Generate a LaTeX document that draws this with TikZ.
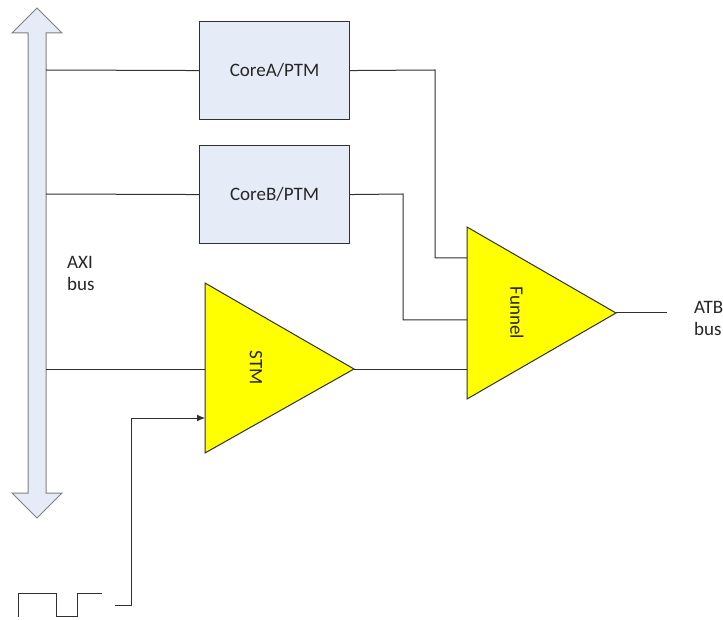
\documentclass[tikz,border=0pt]{standalone}
\usepackage{fontspec}
\setmainfont{Carlito}
\usetikzlibrary{arrows.meta}
\definecolor{boxfill}{HTML}{E6ECF7}
\definecolor{edge}{HTML}{303030}
\definecolor{txt}{HTML}{262626}
\definecolor{triyellow}{HTML}{FFFF00}
\begin{document}
\begin{tikzpicture}[x=1pt,y=-1pt,
  wire/.style={draw=edge,line width=1pt},
  corebox/.style={draw=edge,fill=boxfill,line width=1.1pt,minimum width=150pt,minimum height=98pt,inner sep=0pt,anchor=north west,text=txt,font=\fontsize{19}{21}\selectfont},
  tri/.style={draw=edge,fill=triyellow,line width=1pt,line join=miter},
  lbl/.style={font=\fontsize{19}{22}\selectfont,text=txt,align=left,inner sep=0pt},
  rotlbl/.style={font=\fontsize{19}{21}\selectfont,text=txt,rotate=-90,inner sep=0pt}]
\useasboundingbox (0,0) rectangle (723,620);
% bidirectional bus arrow
\draw[draw=gray,fill=boxfill,line width=1pt]
  (37,8) -- (62,33) -- (46,33) -- (46,493) -- (62,493) -- (37,518)
  -- (12,493) -- (28,493) -- (28,33) -- (12,33) -- cycle;
\coordinate (busA) at (46,70);
\coordinate (busB) at (46,194);
\coordinate (busS) at (46,369);
\node[lbl,anchor=north west] (axi) at (67,256) {AXI\\bus};
% cores
\node[corebox] (coreA) at (199,21) {CoreA/PTM};
\node[corebox] (coreB) at (199,145) {CoreB/PTM};
% STM triangle
\draw[tri] (205,283) -- (354,369) -- (205,453) -- cycle;
\coordinate (stmIn) at (205,369);
\coordinate (stmClk) at (205,418);
\coordinate (stmOut) at (354,369);
\node[rotlbl] (stm) at (256,368) {STM};
% Funnel triangle
\draw[tri] (467,227) -- (616,313) -- (467,399) -- cycle;
\coordinate (fA) at (467,258);
\coordinate (fB) at (467,320);
\coordinate (fS) at (467,369);
\coordinate (fOut) at (616,313);
\node[rotlbl] (funnel) at (517,313) {Funnel};
\coordinate (atbEnd) at (667,313);
\node[lbl,anchor=west] (atb) at (694,318) {ATB\\bus};
% wires
\draw[wire] (busA) -- (coreA.west);
\draw[wire] (busB) -- (coreB.west);
\draw[wire] (busS) -- (stmIn);
\draw[wire] (coreA.east) -- (435,70) -- (435,258) -- (fA);
\draw[wire] (coreB.east) -- (403,194) -- (403,320) -- (fB);
\draw[wire] (stmOut) -- (fS);
\draw[wire] (fOut) -- (atbEnd);
% clock input
\coordinate (clkStart) at (115,605);
\draw[wire,-{Latex[length=8pt,width=7pt]}] (clkStart) -- (131,605) -- (131,418) -- (stmClk);
% square wave
\coordinate (sq) at (18,617);
\draw[wire] (sq) -- (18,593) -- (56,593) -- (56,616) -- (77,616) -- (77,593) -- (102,593);
\end{tikzpicture}
\end{document}
